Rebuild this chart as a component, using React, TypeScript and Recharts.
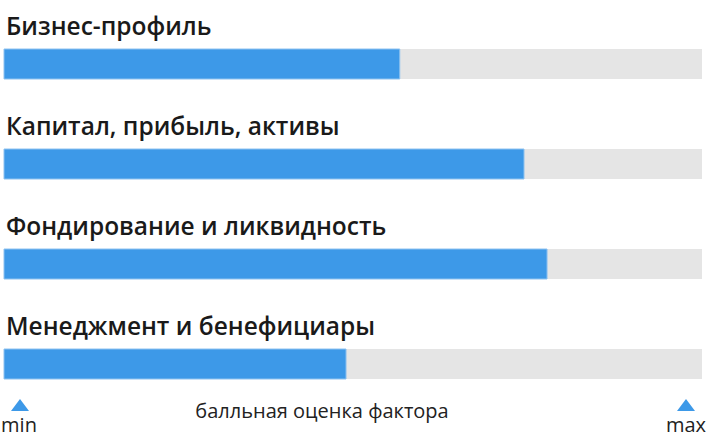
import { Bar, BarChart, LabelList, XAxis, YAxis } from "recharts";

const FACTORS = [
  "Бизнес-профиль",
  "Капитал, прибыль, активы",
  "Фондирование и ликвидность",
  "Менеджмент и бенефициары",
];
const SCORES = [56.7, 74.5, 77.8, 49.0];
const SCALE_MIN = "min";
const SCALE_MAX = "max";
const SCALE_CAPTION = "балльная оценка фактора";

const W = 706;
const H = 444;
const FONT = "'Open Sans', 'Noto Sans', sans-serif";

const data = FACTORS.map((name, i) => ({ name, value: SCORES[i] }));

function TitleLabel(props: any) {
  const { y, value } = props;
  return (
    <text
      x={6}
      y={Number(y) - 14}
      fontFamily={FONT}
      fontSize={24.5}
      fontWeight={600}
      fill="#1a1a1a"
    >
      {value}
    </text>
  );
}

export default function App() {
  return (
    <div style={{ position: "fixed", left: 0, top: 0, width: W, height: H, background: "#fff" }}>
      <BarChart
        width={W}
        height={H}
        data={data}
        layout="vertical"
        margin={{ top: 14, right: 4, bottom: 30, left: 4 }}
      >
        <XAxis type="number" domain={[0, 100]} hide />
        <YAxis type="category" dataKey="name" hide />
        <Bar
          dataKey="value"
          fill="#3d99e8"
          stroke="#8ec2f0"
          strokeWidth={1}
          barSize={30}
          background={{ fill: "#e5e5e5" }}
          isAnimationActive={false}
        >
          <LabelList dataKey="name" content={<TitleLabel />} />
        </Bar>
      </BarChart>
      <svg
        width={W}
        height={H}
        style={{ position: "absolute", left: 0, top: 0, pointerEvents: "none" }}
      >
        <polygon points="20,399 29,411 11,411" fill="#3d99e8" />
        <polygon points="686,399 695,411 677,411" fill="#3d99e8" />
        <text x={19} y={432} textAnchor="middle" fontFamily={FONT} fontSize={20} fill="#222">
          {SCALE_MIN}
        </text>
        <text x={686} y={432} textAnchor="middle" fontFamily={FONT} fontSize={20} fill="#222">
          {SCALE_MAX}
        </text>
        <text x={322} y={418} textAnchor="middle" fontFamily={FONT} fontSize={20} fill="#222">
          {SCALE_CAPTION}
        </text>
      </svg>
    </div>
  );
}
